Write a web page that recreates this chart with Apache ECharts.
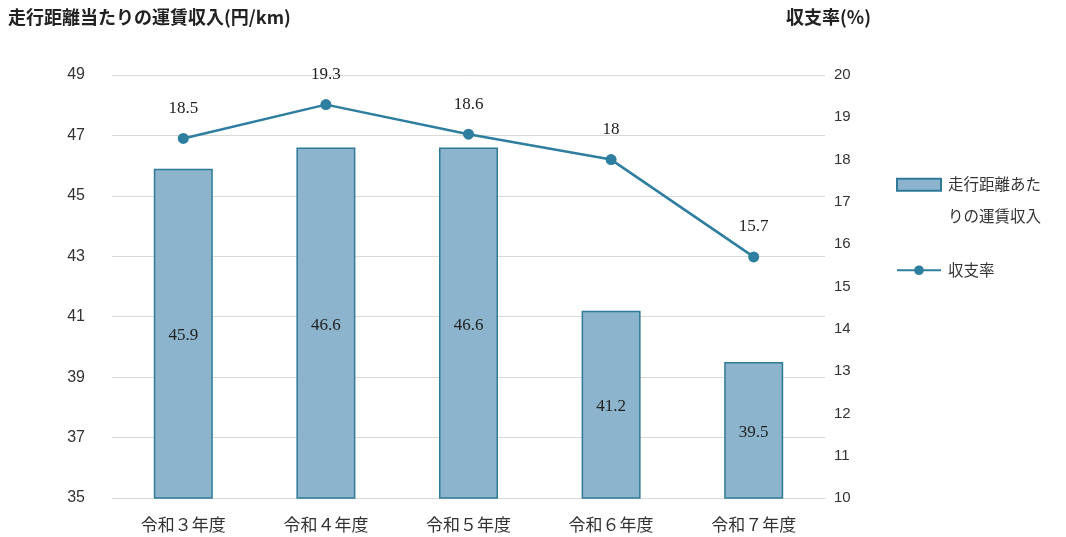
<!DOCTYPE html>
<html>
<head>
<meta charset="utf-8">
<script src="https://cdn.jsdelivr.net/npm/echarts@6/dist/echarts.min.js"></script>
<style>
  html, body { margin: 0; padding: 0; background: #fff; }
  #chart { width: 1066px; height: 537px; }
</style>
</head>
<body>
<div id="chart"></div>
<script>
// Fiscal years
const categories = ['令和３年度', '令和４年度', '令和５年度', '令和６年度', '令和７年度'];
// Fare revenue per km travelled (yen/km)
const revenuePerKm = [45.9, 46.6, 46.6, 41.2, 39.5];
// Operating ratio (%)
const operatingRatio = [18.5, 19.3, 18.6, 18, 15.7];

const serif = '"Liberation Serif", "DejaVu Serif", "Noto Sans CJK JP", serif';
const cjk = '"Noto Sans CJK JP", sans-serif';
const sans = '"Liberation Sans", "Noto Sans", sans-serif';
const textColor = '#333333';

const chart = echarts.init(document.getElementById('chart'));
chart.setOption({
  animation: false,
  backgroundColor: '#ffffff',
  grid: { left: 112, right: 241, top: 75, bottom: 39, containLabel: false },
  graphic: [
    {
      type: 'text', left: 8, top: 8,
      style: { text: '走行距離当たりの運賃収入(円/km)', font: 'bold 18px ' + cjk, fill: '#222' }
    },
    {
      type: 'text', left: 786, top: 8,
      style: { text: '収支率(%)', font: 'bold 18px ' + cjk, fill: '#222' }
    }
  ],
  legend: {
    orient: 'vertical',
    left: 896,
    top: 176,
    padding: 0,
    itemWidth: 44,
    itemHeight: 12,
    itemGap: 39,
    textStyle: {
      fontFamily: cjk, fontSize: 15.5, color: textColor,
      // first line sits level with the legend icon, second line below it
      rich: {
        a: { fontFamily: cjk, fontSize: 15.5, color: textColor, lineHeight: 62, padding: [0, 0, 0, 2] },
        b: { fontFamily: cjk, fontSize: 15.5, color: textColor, lineHeight: 2, padding: [0, 0, 0, 2] },
        c: { fontFamily: cjk, fontSize: 15.5, color: textColor, lineHeight: 20, padding: [0, 0, 0, 2] }
      }
    },
    formatter: function (name) {
      return name === '走行距離あたりの運賃収入'
        ? '{a|走行距離あた}\n{b|りの運賃収入}'
        : '{c|' + name + '}';
    },
    data: [{ name: '走行距離あたりの運賃収入', icon: 'rect' }, { name: '収支率' }]
  },
  xAxis: {
    type: 'category',
    data: categories,
    axisLine: { show: true, lineStyle: { color: '#d9d9d9', width: 1 } },
    axisTick: { show: false },
    axisLabel: { fontFamily: cjk, fontSize: 17, color: textColor, margin: 18 }
  },
  yAxis: [
    {
      type: 'value',
      min: 35, max: 49, interval: 2,
      axisLine: { show: false },
      axisTick: { show: false },
      splitLine: { lineStyle: { color: '#d9d9d9', width: 1 } },
      axisLabel: { fontFamily: sans, fontSize: 16, color: textColor, margin: 27 }
    },
    {
      type: 'value',
      min: 10, max: 20, interval: 1,
      axisLine: { show: false },
      axisTick: { show: false },
      splitLine: { show: false },
      axisLabel: { fontFamily: sans, fontSize: 15, color: textColor, margin: 9, align: 'left' }
    }
  ],
  series: [
    {
      name: '走行距離あたりの運賃収入',
      type: 'bar',
      yAxisIndex: 0,
      data: revenuePerKm,
      barWidth: 59,
      itemStyle: { color: '#8cb4cc', borderColor: '#2f7a98', borderWidth: 1.5 },
      label: {
        show: true, position: 'inside', offset: [0, 2],
        fontFamily: serif, fontSize: 17, color: '#222'
      }
    },
    {
      name: '収支率',
      type: 'line',
      yAxisIndex: 1,
      data: operatingRatio,
      symbol: 'circle',
      symbolSize: 11,
      lineStyle: { color: '#2e7ea0', width: 2.5 },
      itemStyle: { color: '#2e7ea0' },
      label: {
        show: true, position: 'top', distance: 16,
        fontFamily: serif, fontSize: 17, color: '#222'
      },
      z: 5
    }
  ]
});
</script>
</body>
</html>
